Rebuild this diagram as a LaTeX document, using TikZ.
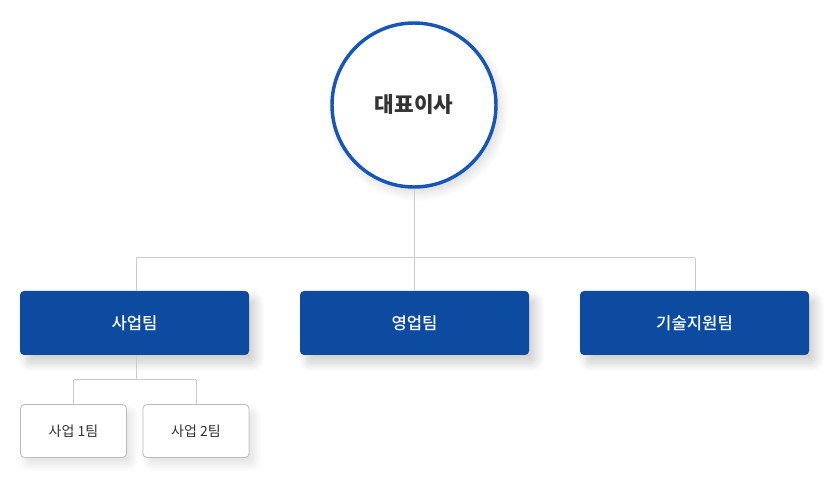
\documentclass[tikz,border=0pt]{standalone}
\usepackage{fontspec}
\setmainfont{Noto Sans CJK KR}
\newfontfamily\krmed{Noto Sans CJK KR Medium}
\usetikzlibrary{shadows.blur}
\definecolor{ringblue}{HTML}{1656B8}
\definecolor{boxblue}{HTML}{0D4BA0}
\definecolor{linegray}{HTML}{CCCCCC}
\definecolor{subgray}{HTML}{BBBBBB}
\definecolor{txtdark}{HTML}{333333}
\tikzset{
  ceo/.style={circle, draw=ringblue, line width=2.6pt, fill=white, minimum size=164*0.75pt, inner sep=0pt,
    blur shadow={shadow xshift=3pt, shadow yshift=-4pt, shadow blur radius=7pt, shadow blur steps=12, shadow opacity=16},
    font=\fontsize{16}{18}\selectfont\bfseries, text=txtdark},
  team/.style={rectangle, rounded corners=3pt, fill=boxblue, minimum width=229*0.75pt, minimum height=64*0.75pt,
    inner sep=0pt, text=white, font=\krmed\fontsize{12.5}{14}\selectfont,
    blur shadow={shadow xshift=5pt, shadow yshift=-6pt, shadow blur radius=7pt, shadow blur steps=12, shadow opacity=20}},
  sub/.style={rectangle, rounded corners=3pt, fill=white, draw=subgray, line width=0.6pt,
    minimum width=106*0.75pt, minimum height=53*0.75pt, inner sep=0pt, text=txtdark,
    font=\fontsize{10.5}{12}\selectfont,
    blur shadow={shadow xshift=4pt, shadow yshift=-5pt, shadow blur radius=6pt, shadow blur steps=12, shadow opacity=12}},
  conn/.style={draw=linegray, line width=0.75pt}
}
\begin{document}
\begin{tikzpicture}[x=0.75pt, y=-0.75pt]
\useasboundingbox (0,0) rectangle (840,499);
\node[ceo] (ceo) at (414,105) {대표이사};
\node[team] (t1) at (134.5,323) {사업팀};
\node[team] (t2) at (414.5,323) {영업팀};
\node[team] (t3) at (694.5,323) {기술지원팀};
\node[sub] (s1) at (73.5,431) {사업 1팀};
\node[sub] (s2) at (196,431) {사업 2팀};
\coordinate (hub) at (414,258);
\coordinate (hl) at (136,258);
\coordinate (hr) at (695,258);
\coordinate (shub) at (136,380);
\draw[conn] (ceo.south) -- (hub);
\draw[conn] (hl) -- (hr);
\draw[conn] (hl) -- (hl |- t1.north);
\draw[conn] (hub) -- (hub |- t2.north);
\draw[conn] (hr) -- (hr |- t3.north);
\draw[conn] (shub |- t1.south) -- (shub);
\draw[conn] (s1.north |- shub) -- (s2.north |- shub);
\draw[conn] (s1.north |- shub) -- (s1.north);
\draw[conn] (s2.north |- shub) -- (s2.north);
\end{tikzpicture}
\end{document}
